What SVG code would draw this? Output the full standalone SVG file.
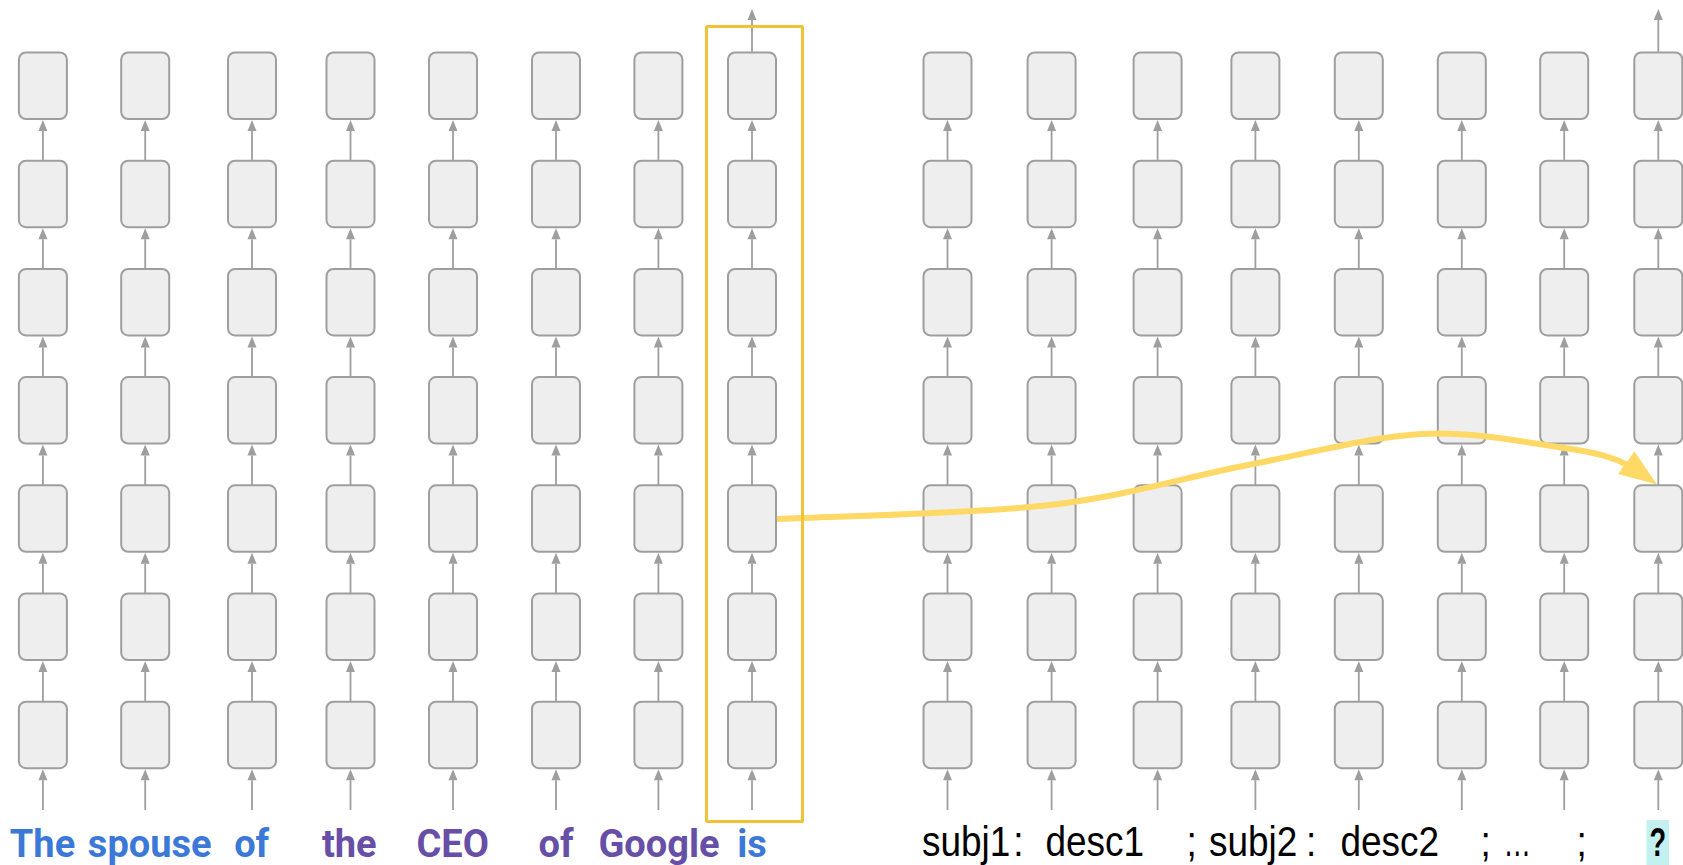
<svg xmlns="http://www.w3.org/2000/svg" width="1683" height="865" viewBox="0 0 1683 865">
  <style>
    .cell { fill: #EEEEEE; stroke: #9E9E9E; stroke-width: 2; }
    .flow { stroke: #9E9E9E; stroke-width: 1.8; fill: none; marker-end: url(#tip); }
    .lbl-b { font-family: Roboto, "Liberation Sans", Arial, sans-serif; font-weight: 700; font-size: 38px; text-anchor: middle; }
    .blue { fill: #3C78D8; }
    .purple { fill: #674EA7; }
    .lbl-r { font-family: "Liberation Sans", Arial, sans-serif; font-size: 43px; fill: #000000; }
    .patch { stroke: #FFD966; stroke-width: 6; fill: none; }
  </style>
  <defs>
    <marker id="tip" markerUnits="userSpaceOnUse" markerWidth="11" markerHeight="9" refX="0" refY="4.5" orient="auto" overflow="visible">
      <path d="M0,0 L11,4.5 L0,9 Z" fill="#9E9E9E"/>
    </marker>
  </defs>

  <rect width="1683" height="865" fill="#FFFFFF"/>

  <!-- vertical connectors: one stack per token column -->
  <g id="connectors">
    <!-- left prompt columns -->
    <g id="arrows-L1"><line class="flow" x1="42.9" y1="810" x2="42.9" y2="780.2"/><line class="flow" x1="42.9" y1="701.7" x2="42.9" y2="672"/><line class="flow" x1="42.9" y1="593.5" x2="42.9" y2="563.8"/><line class="flow" x1="42.9" y1="485.3" x2="42.9" y2="455.6"/><line class="flow" x1="42.9" y1="377.1" x2="42.9" y2="347.4"/><line class="flow" x1="42.9" y1="268.9" x2="42.9" y2="239.2"/><line class="flow" x1="42.9" y1="160.7" x2="42.9" y2="131"/></g>
    <g id="arrows-L2"><line class="flow" x1="145.2" y1="810" x2="145.2" y2="780.2"/><line class="flow" x1="145.2" y1="701.7" x2="145.2" y2="672"/><line class="flow" x1="145.2" y1="593.5" x2="145.2" y2="563.8"/><line class="flow" x1="145.2" y1="485.3" x2="145.2" y2="455.6"/><line class="flow" x1="145.2" y1="377.1" x2="145.2" y2="347.4"/><line class="flow" x1="145.2" y1="268.9" x2="145.2" y2="239.2"/><line class="flow" x1="145.2" y1="160.7" x2="145.2" y2="131"/></g>
    <g id="arrows-L3"><line class="flow" x1="252" y1="810" x2="252" y2="780.2"/><line class="flow" x1="252" y1="701.7" x2="252" y2="672"/><line class="flow" x1="252" y1="593.5" x2="252" y2="563.8"/><line class="flow" x1="252" y1="485.3" x2="252" y2="455.6"/><line class="flow" x1="252" y1="377.1" x2="252" y2="347.4"/><line class="flow" x1="252" y1="268.9" x2="252" y2="239.2"/><line class="flow" x1="252" y1="160.7" x2="252" y2="131"/></g>
    <g id="arrows-L4"><line class="flow" x1="350.5" y1="810" x2="350.5" y2="780.2"/><line class="flow" x1="350.5" y1="701.7" x2="350.5" y2="672"/><line class="flow" x1="350.5" y1="593.5" x2="350.5" y2="563.8"/><line class="flow" x1="350.5" y1="485.3" x2="350.5" y2="455.6"/><line class="flow" x1="350.5" y1="377.1" x2="350.5" y2="347.4"/><line class="flow" x1="350.5" y1="268.9" x2="350.5" y2="239.2"/><line class="flow" x1="350.5" y1="160.7" x2="350.5" y2="131"/></g>
    <g id="arrows-L5"><line class="flow" x1="453" y1="810" x2="453" y2="780.2"/><line class="flow" x1="453" y1="701.7" x2="453" y2="672"/><line class="flow" x1="453" y1="593.5" x2="453" y2="563.8"/><line class="flow" x1="453" y1="485.3" x2="453" y2="455.6"/><line class="flow" x1="453" y1="377.1" x2="453" y2="347.4"/><line class="flow" x1="453" y1="268.9" x2="453" y2="239.2"/><line class="flow" x1="453" y1="160.7" x2="453" y2="131"/></g>
    <g id="arrows-L6"><line class="flow" x1="556" y1="810" x2="556" y2="780.2"/><line class="flow" x1="556" y1="701.7" x2="556" y2="672"/><line class="flow" x1="556" y1="593.5" x2="556" y2="563.8"/><line class="flow" x1="556" y1="485.3" x2="556" y2="455.6"/><line class="flow" x1="556" y1="377.1" x2="556" y2="347.4"/><line class="flow" x1="556" y1="268.9" x2="556" y2="239.2"/><line class="flow" x1="556" y1="160.7" x2="556" y2="131"/></g>
    <g id="arrows-L7"><line class="flow" x1="658.4" y1="810" x2="658.4" y2="780.2"/><line class="flow" x1="658.4" y1="701.7" x2="658.4" y2="672"/><line class="flow" x1="658.4" y1="593.5" x2="658.4" y2="563.8"/><line class="flow" x1="658.4" y1="485.3" x2="658.4" y2="455.6"/><line class="flow" x1="658.4" y1="377.1" x2="658.4" y2="347.4"/><line class="flow" x1="658.4" y1="268.9" x2="658.4" y2="239.2"/><line class="flow" x1="658.4" y1="160.7" x2="658.4" y2="131"/></g>
    <g id="arrows-L8"><line class="flow" x1="752" y1="810" x2="752" y2="780.2"/><line class="flow" x1="752" y1="701.7" x2="752" y2="672"/><line class="flow" x1="752" y1="593.5" x2="752" y2="563.8"/><line class="flow" x1="752" y1="485.3" x2="752" y2="455.6"/><line class="flow" x1="752" y1="377.1" x2="752" y2="347.4"/><line class="flow" x1="752" y1="268.9" x2="752" y2="239.2"/><line class="flow" x1="752" y1="160.7" x2="752" y2="131"/><line class="flow" x1="752" y1="52.5" x2="752" y2="20"/></g>
    <!-- right context columns -->
    <g id="arrows-R1"><line class="flow" x1="947.5" y1="810" x2="947.5" y2="780.2"/><line class="flow" x1="947.5" y1="701.7" x2="947.5" y2="672"/><line class="flow" x1="947.5" y1="593.5" x2="947.5" y2="563.8"/><line class="flow" x1="947.5" y1="485.3" x2="947.5" y2="455.6"/><line class="flow" x1="947.5" y1="377.1" x2="947.5" y2="347.4"/><line class="flow" x1="947.5" y1="268.9" x2="947.5" y2="239.2"/><line class="flow" x1="947.5" y1="160.7" x2="947.5" y2="131"/></g>
    <g id="arrows-R2"><line class="flow" x1="1051.6" y1="810" x2="1051.6" y2="780.2"/><line class="flow" x1="1051.6" y1="701.7" x2="1051.6" y2="672"/><line class="flow" x1="1051.6" y1="593.5" x2="1051.6" y2="563.8"/><line class="flow" x1="1051.6" y1="485.3" x2="1051.6" y2="455.6"/><line class="flow" x1="1051.6" y1="377.1" x2="1051.6" y2="347.4"/><line class="flow" x1="1051.6" y1="268.9" x2="1051.6" y2="239.2"/><line class="flow" x1="1051.6" y1="160.7" x2="1051.6" y2="131"/></g>
    <g id="arrows-R3"><line class="flow" x1="1157.6" y1="810" x2="1157.6" y2="780.2"/><line class="flow" x1="1157.6" y1="701.7" x2="1157.6" y2="672"/><line class="flow" x1="1157.6" y1="593.5" x2="1157.6" y2="563.8"/><line class="flow" x1="1157.6" y1="485.3" x2="1157.6" y2="455.6"/><line class="flow" x1="1157.6" y1="377.1" x2="1157.6" y2="347.4"/><line class="flow" x1="1157.6" y1="268.9" x2="1157.6" y2="239.2"/><line class="flow" x1="1157.6" y1="160.7" x2="1157.6" y2="131"/></g>
    <g id="arrows-R4"><line class="flow" x1="1255.4" y1="810" x2="1255.4" y2="780.2"/><line class="flow" x1="1255.4" y1="701.7" x2="1255.4" y2="672"/><line class="flow" x1="1255.4" y1="593.5" x2="1255.4" y2="563.8"/><line class="flow" x1="1255.4" y1="485.3" x2="1255.4" y2="455.6"/><line class="flow" x1="1255.4" y1="377.1" x2="1255.4" y2="347.4"/><line class="flow" x1="1255.4" y1="268.9" x2="1255.4" y2="239.2"/><line class="flow" x1="1255.4" y1="160.7" x2="1255.4" y2="131"/></g>
    <g id="arrows-R5"><line class="flow" x1="1358.8" y1="810" x2="1358.8" y2="780.2"/><line class="flow" x1="1358.8" y1="701.7" x2="1358.8" y2="672"/><line class="flow" x1="1358.8" y1="593.5" x2="1358.8" y2="563.8"/><line class="flow" x1="1358.8" y1="485.3" x2="1358.8" y2="455.6"/><line class="flow" x1="1358.8" y1="377.1" x2="1358.8" y2="347.4"/><line class="flow" x1="1358.8" y1="268.9" x2="1358.8" y2="239.2"/><line class="flow" x1="1358.8" y1="160.7" x2="1358.8" y2="131"/></g>
    <g id="arrows-R6"><line class="flow" x1="1461.8" y1="810" x2="1461.8" y2="780.2"/><line class="flow" x1="1461.8" y1="701.7" x2="1461.8" y2="672"/><line class="flow" x1="1461.8" y1="593.5" x2="1461.8" y2="563.8"/><line class="flow" x1="1461.8" y1="485.3" x2="1461.8" y2="455.6"/><line class="flow" x1="1461.8" y1="377.1" x2="1461.8" y2="347.4"/><line class="flow" x1="1461.8" y1="268.9" x2="1461.8" y2="239.2"/><line class="flow" x1="1461.8" y1="160.7" x2="1461.8" y2="131"/></g>
    <g id="arrows-R7"><line class="flow" x1="1564.2" y1="810" x2="1564.2" y2="780.2"/><line class="flow" x1="1564.2" y1="701.7" x2="1564.2" y2="672"/><line class="flow" x1="1564.2" y1="593.5" x2="1564.2" y2="563.8"/><line class="flow" x1="1564.2" y1="485.3" x2="1564.2" y2="455.6"/><line class="flow" x1="1564.2" y1="377.1" x2="1564.2" y2="347.4"/><line class="flow" x1="1564.2" y1="268.9" x2="1564.2" y2="239.2"/><line class="flow" x1="1564.2" y1="160.7" x2="1564.2" y2="131"/></g>
    <g id="arrows-R8"><line class="flow" x1="1658.3" y1="810" x2="1658.3" y2="780.2"/><line class="flow" x1="1658.3" y1="701.7" x2="1658.3" y2="672"/><line class="flow" x1="1658.3" y1="593.5" x2="1658.3" y2="563.8"/><line class="flow" x1="1658.3" y1="485.3" x2="1658.3" y2="455.6"/><line class="flow" x1="1658.3" y1="377.1" x2="1658.3" y2="347.4"/><line class="flow" x1="1658.3" y1="268.9" x2="1658.3" y2="239.2"/><line class="flow" x1="1658.3" y1="160.7" x2="1658.3" y2="131"/><line class="flow" x1="1658.3" y1="52.5" x2="1658.3" y2="20"/></g>
  </g>

  <!-- hidden-state cells: column Lc / Rc, layer 1 at the bottom -->
  <g id="cells">
    <g id="L1-7"><rect class="cell" x="18.9" y="52.5" width="48" height="66.5" rx="7"/></g>
    <g id="L1-6"><rect class="cell" x="18.9" y="160.7" width="48" height="66.5" rx="7"/></g>
    <g id="L1-5"><rect class="cell" x="18.9" y="268.9" width="48" height="66.5" rx="7"/></g>
    <g id="L1-4"><rect class="cell" x="18.9" y="377.1" width="48" height="66.5" rx="7"/></g>
    <g id="L1-3"><rect class="cell" x="18.9" y="485.3" width="48" height="66.5" rx="7"/></g>
    <g id="L1-2"><rect class="cell" x="18.9" y="593.5" width="48" height="66.5" rx="7"/></g>
    <g id="L1-1"><rect class="cell" x="18.9" y="701.7" width="48" height="66.5" rx="7"/></g>

    <g id="L2-7"><rect class="cell" x="121.2" y="52.5" width="48" height="66.5" rx="7"/></g>
    <g id="L2-6"><rect class="cell" x="121.2" y="160.7" width="48" height="66.5" rx="7"/></g>
    <g id="L2-5"><rect class="cell" x="121.2" y="268.9" width="48" height="66.5" rx="7"/></g>
    <g id="L2-4"><rect class="cell" x="121.2" y="377.1" width="48" height="66.5" rx="7"/></g>
    <g id="L2-3"><rect class="cell" x="121.2" y="485.3" width="48" height="66.5" rx="7"/></g>
    <g id="L2-2"><rect class="cell" x="121.2" y="593.5" width="48" height="66.5" rx="7"/></g>
    <g id="L2-1"><rect class="cell" x="121.2" y="701.7" width="48" height="66.5" rx="7"/></g>

    <g id="L3-7"><rect class="cell" x="228" y="52.5" width="48" height="66.5" rx="7"/></g>
    <g id="L3-6"><rect class="cell" x="228" y="160.7" width="48" height="66.5" rx="7"/></g>
    <g id="L3-5"><rect class="cell" x="228" y="268.9" width="48" height="66.5" rx="7"/></g>
    <g id="L3-4"><rect class="cell" x="228" y="377.1" width="48" height="66.5" rx="7"/></g>
    <g id="L3-3"><rect class="cell" x="228" y="485.3" width="48" height="66.5" rx="7"/></g>
    <g id="L3-2"><rect class="cell" x="228" y="593.5" width="48" height="66.5" rx="7"/></g>
    <g id="L3-1"><rect class="cell" x="228" y="701.7" width="48" height="66.5" rx="7"/></g>

    <g id="L4-7"><rect class="cell" x="326.5" y="52.5" width="48" height="66.5" rx="7"/></g>
    <g id="L4-6"><rect class="cell" x="326.5" y="160.7" width="48" height="66.5" rx="7"/></g>
    <g id="L4-5"><rect class="cell" x="326.5" y="268.9" width="48" height="66.5" rx="7"/></g>
    <g id="L4-4"><rect class="cell" x="326.5" y="377.1" width="48" height="66.5" rx="7"/></g>
    <g id="L4-3"><rect class="cell" x="326.5" y="485.3" width="48" height="66.5" rx="7"/></g>
    <g id="L4-2"><rect class="cell" x="326.5" y="593.5" width="48" height="66.5" rx="7"/></g>
    <g id="L4-1"><rect class="cell" x="326.5" y="701.7" width="48" height="66.5" rx="7"/></g>

    <g id="L5-7"><rect class="cell" x="429" y="52.5" width="48" height="66.5" rx="7"/></g>
    <g id="L5-6"><rect class="cell" x="429" y="160.7" width="48" height="66.5" rx="7"/></g>
    <g id="L5-5"><rect class="cell" x="429" y="268.9" width="48" height="66.5" rx="7"/></g>
    <g id="L5-4"><rect class="cell" x="429" y="377.1" width="48" height="66.5" rx="7"/></g>
    <g id="L5-3"><rect class="cell" x="429" y="485.3" width="48" height="66.5" rx="7"/></g>
    <g id="L5-2"><rect class="cell" x="429" y="593.5" width="48" height="66.5" rx="7"/></g>
    <g id="L5-1"><rect class="cell" x="429" y="701.7" width="48" height="66.5" rx="7"/></g>

    <g id="L6-7"><rect class="cell" x="532" y="52.5" width="48" height="66.5" rx="7"/></g>
    <g id="L6-6"><rect class="cell" x="532" y="160.7" width="48" height="66.5" rx="7"/></g>
    <g id="L6-5"><rect class="cell" x="532" y="268.9" width="48" height="66.5" rx="7"/></g>
    <g id="L6-4"><rect class="cell" x="532" y="377.1" width="48" height="66.5" rx="7"/></g>
    <g id="L6-3"><rect class="cell" x="532" y="485.3" width="48" height="66.5" rx="7"/></g>
    <g id="L6-2"><rect class="cell" x="532" y="593.5" width="48" height="66.5" rx="7"/></g>
    <g id="L6-1"><rect class="cell" x="532" y="701.7" width="48" height="66.5" rx="7"/></g>

    <g id="L7-7"><rect class="cell" x="634.4" y="52.5" width="48" height="66.5" rx="7"/></g>
    <g id="L7-6"><rect class="cell" x="634.4" y="160.7" width="48" height="66.5" rx="7"/></g>
    <g id="L7-5"><rect class="cell" x="634.4" y="268.9" width="48" height="66.5" rx="7"/></g>
    <g id="L7-4"><rect class="cell" x="634.4" y="377.1" width="48" height="66.5" rx="7"/></g>
    <g id="L7-3"><rect class="cell" x="634.4" y="485.3" width="48" height="66.5" rx="7"/></g>
    <g id="L7-2"><rect class="cell" x="634.4" y="593.5" width="48" height="66.5" rx="7"/></g>
    <g id="L7-1"><rect class="cell" x="634.4" y="701.7" width="48" height="66.5" rx="7"/></g>

    <g id="L8-7"><rect class="cell" x="728" y="52.5" width="48" height="66.5" rx="7"/></g>
    <g id="L8-6"><rect class="cell" x="728" y="160.7" width="48" height="66.5" rx="7"/></g>
    <g id="L8-5"><rect class="cell" x="728" y="268.9" width="48" height="66.5" rx="7"/></g>
    <g id="L8-4"><rect class="cell" x="728" y="377.1" width="48" height="66.5" rx="7"/></g>
    <g id="L8-3"><rect class="cell" x="728" y="485.3" width="48" height="66.5" rx="7"/></g>
    <g id="L8-2"><rect class="cell" x="728" y="593.5" width="48" height="66.5" rx="7"/></g>
    <g id="L8-1"><rect class="cell" x="728" y="701.7" width="48" height="66.5" rx="7"/></g>

    <g id="R1-7"><rect class="cell" x="923.5" y="52.5" width="48" height="66.5" rx="7"/></g>
    <g id="R1-6"><rect class="cell" x="923.5" y="160.7" width="48" height="66.5" rx="7"/></g>
    <g id="R1-5"><rect class="cell" x="923.5" y="268.9" width="48" height="66.5" rx="7"/></g>
    <g id="R1-4"><rect class="cell" x="923.5" y="377.1" width="48" height="66.5" rx="7"/></g>
    <g id="R1-3"><rect class="cell" x="923.5" y="485.3" width="48" height="66.5" rx="7"/></g>
    <g id="R1-2"><rect class="cell" x="923.5" y="593.5" width="48" height="66.5" rx="7"/></g>
    <g id="R1-1"><rect class="cell" x="923.5" y="701.7" width="48" height="66.5" rx="7"/></g>

    <g id="R2-7"><rect class="cell" x="1027.6" y="52.5" width="48" height="66.5" rx="7"/></g>
    <g id="R2-6"><rect class="cell" x="1027.6" y="160.7" width="48" height="66.5" rx="7"/></g>
    <g id="R2-5"><rect class="cell" x="1027.6" y="268.9" width="48" height="66.5" rx="7"/></g>
    <g id="R2-4"><rect class="cell" x="1027.6" y="377.1" width="48" height="66.5" rx="7"/></g>
    <g id="R2-3"><rect class="cell" x="1027.6" y="485.3" width="48" height="66.5" rx="7"/></g>
    <g id="R2-2"><rect class="cell" x="1027.6" y="593.5" width="48" height="66.5" rx="7"/></g>
    <g id="R2-1"><rect class="cell" x="1027.6" y="701.7" width="48" height="66.5" rx="7"/></g>

    <g id="R3-7"><rect class="cell" x="1133.6" y="52.5" width="48" height="66.5" rx="7"/></g>
    <g id="R3-6"><rect class="cell" x="1133.6" y="160.7" width="48" height="66.5" rx="7"/></g>
    <g id="R3-5"><rect class="cell" x="1133.6" y="268.9" width="48" height="66.5" rx="7"/></g>
    <g id="R3-4"><rect class="cell" x="1133.6" y="377.1" width="48" height="66.5" rx="7"/></g>
    <g id="R3-3"><rect class="cell" x="1133.6" y="485.3" width="48" height="66.5" rx="7"/></g>
    <g id="R3-2"><rect class="cell" x="1133.6" y="593.5" width="48" height="66.5" rx="7"/></g>
    <g id="R3-1"><rect class="cell" x="1133.6" y="701.7" width="48" height="66.5" rx="7"/></g>

    <g id="R4-7"><rect class="cell" x="1231.4" y="52.5" width="48" height="66.5" rx="7"/></g>
    <g id="R4-6"><rect class="cell" x="1231.4" y="160.7" width="48" height="66.5" rx="7"/></g>
    <g id="R4-5"><rect class="cell" x="1231.4" y="268.9" width="48" height="66.5" rx="7"/></g>
    <g id="R4-4"><rect class="cell" x="1231.4" y="377.1" width="48" height="66.5" rx="7"/></g>
    <g id="R4-3"><rect class="cell" x="1231.4" y="485.3" width="48" height="66.5" rx="7"/></g>
    <g id="R4-2"><rect class="cell" x="1231.4" y="593.5" width="48" height="66.5" rx="7"/></g>
    <g id="R4-1"><rect class="cell" x="1231.4" y="701.7" width="48" height="66.5" rx="7"/></g>

    <g id="R5-7"><rect class="cell" x="1334.8" y="52.5" width="48" height="66.5" rx="7"/></g>
    <g id="R5-6"><rect class="cell" x="1334.8" y="160.7" width="48" height="66.5" rx="7"/></g>
    <g id="R5-5"><rect class="cell" x="1334.8" y="268.9" width="48" height="66.5" rx="7"/></g>
    <g id="R5-4"><rect class="cell" x="1334.8" y="377.1" width="48" height="66.5" rx="7"/></g>
    <g id="R5-3"><rect class="cell" x="1334.8" y="485.3" width="48" height="66.5" rx="7"/></g>
    <g id="R5-2"><rect class="cell" x="1334.8" y="593.5" width="48" height="66.5" rx="7"/></g>
    <g id="R5-1"><rect class="cell" x="1334.8" y="701.7" width="48" height="66.5" rx="7"/></g>

    <g id="R6-7"><rect class="cell" x="1437.8" y="52.5" width="48" height="66.5" rx="7"/></g>
    <g id="R6-6"><rect class="cell" x="1437.8" y="160.7" width="48" height="66.5" rx="7"/></g>
    <g id="R6-5"><rect class="cell" x="1437.8" y="268.9" width="48" height="66.5" rx="7"/></g>
    <g id="R6-4"><rect class="cell" x="1437.8" y="377.1" width="48" height="66.5" rx="7"/></g>
    <g id="R6-3"><rect class="cell" x="1437.8" y="485.3" width="48" height="66.5" rx="7"/></g>
    <g id="R6-2"><rect class="cell" x="1437.8" y="593.5" width="48" height="66.5" rx="7"/></g>
    <g id="R6-1"><rect class="cell" x="1437.8" y="701.7" width="48" height="66.5" rx="7"/></g>

    <g id="R7-7"><rect class="cell" x="1540.2" y="52.5" width="48" height="66.5" rx="7"/></g>
    <g id="R7-6"><rect class="cell" x="1540.2" y="160.7" width="48" height="66.5" rx="7"/></g>
    <g id="R7-5"><rect class="cell" x="1540.2" y="268.9" width="48" height="66.5" rx="7"/></g>
    <g id="R7-4"><rect class="cell" x="1540.2" y="377.1" width="48" height="66.5" rx="7"/></g>
    <g id="R7-3"><rect class="cell" x="1540.2" y="485.3" width="48" height="66.5" rx="7"/></g>
    <g id="R7-2"><rect class="cell" x="1540.2" y="593.5" width="48" height="66.5" rx="7"/></g>
    <g id="R7-1"><rect class="cell" x="1540.2" y="701.7" width="48" height="66.5" rx="7"/></g>

    <g id="R8-7"><rect class="cell" x="1634.3" y="52.5" width="48" height="66.5" rx="7"/></g>
    <g id="R8-6"><rect class="cell" x="1634.3" y="160.7" width="48" height="66.5" rx="7"/></g>
    <g id="R8-5"><rect class="cell" x="1634.3" y="268.9" width="48" height="66.5" rx="7"/></g>
    <g id="R8-4"><rect class="cell" x="1634.3" y="377.1" width="48" height="66.5" rx="7"/></g>
    <g id="R8-3"><rect class="cell" x="1634.3" y="485.3" width="48" height="66.5" rx="7"/></g>
    <g id="R8-2"><rect class="cell" x="1634.3" y="593.5" width="48" height="66.5" rx="7"/></g>
    <g id="R8-1"><rect class="cell" x="1634.3" y="701.7" width="48" height="66.5" rx="7"/></g>
  </g>

  <!-- hidden state carried from the last prompt token into the target position -->
  <g id="patch-link">
    <path class="patch" d="M777,519 C822.5,516.7 971.5,514 1050,505 C1128.5,496 1186,476.8 1248,465 C1310,453.2 1369.3,436.8 1422,434 C1474.7,431.2 1530,443.2 1564,448 C1598,452.8 1612,457 1630,466"/>
    <polygon points="1657,484.5 1634.5,451.5 1618,474" fill="#FFD966"/>
  </g>

  <!-- highlighted source column -->
  <g id="source-frame">
    <rect x="706.5" y="26.5" width="96" height="795" rx="1" fill="none" stroke="#F1C232" stroke-width="3"/>
  </g>

  <!-- prompt tokens -->
  <g id="prompt-labels">
    <text class="lbl-b blue" x="42.5" y="857.3">The</text>
    <text class="lbl-b blue" x="149.7" y="857.3">spouse</text>
    <text class="lbl-b blue" x="251.7" y="857.3">of</text>
    <text class="lbl-b purple" x="349.3" y="857.3">the</text>
    <text class="lbl-b purple" x="452.7" y="857.3">CEO</text>
    <text class="lbl-b purple" x="556" y="857.3">of</text>
    <text class="lbl-b purple" x="659" y="857.3">Google</text>
    <text class="lbl-b blue" x="752" y="857.3">is</text>
  </g>

  <!-- target prompt tokens -->
  <g id="target-labels">
    <rect x="1646.5" y="820" width="22.5" height="45" fill="#C2F1EF"/>
    <text class="lbl-r" transform="translate(922 856.3) scale(0.86 1)">subj1</text>
    <text class="lbl-r" transform="translate(1013.3 856.3) scale(0.86 1)">:</text>
    <text class="lbl-r" transform="translate(1045.4 856.3) scale(0.86 1)">desc1</text>
    <text class="lbl-r" transform="translate(1186.6 856.3) scale(0.86 1)">;</text>
    <text class="lbl-r" transform="translate(1209 856.3) scale(0.86 1)">subj2</text>
    <text class="lbl-r" transform="translate(1306 856.3) scale(0.86 1)">:</text>
    <text class="lbl-r" transform="translate(1340.4 856.3) scale(0.86 1)">desc2</text>
    <text class="lbl-r" transform="translate(1480.6 856.3) scale(0.86 1)">;</text>
    <text class="lbl-r" transform="translate(1503.5 856.3) scale(0.64 1)">…</text>
    <text class="lbl-r" transform="translate(1576.6 856.3) scale(0.86 1)">;</text>
    <text class="lbl-r" transform="translate(1657.8 856) scale(0.68 1)" style="font-size:40px;font-weight:700;text-anchor:middle">?</text>
  </g>
</svg>
